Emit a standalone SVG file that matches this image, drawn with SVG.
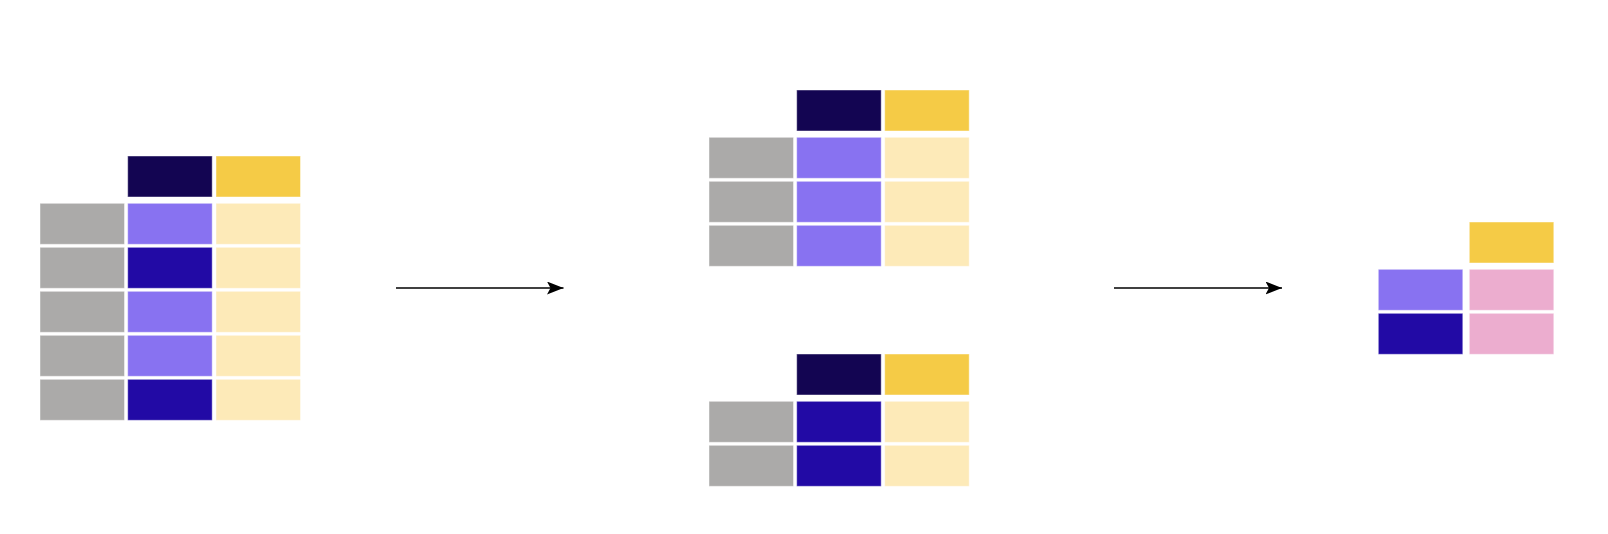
<svg xmlns="http://www.w3.org/2000/svg" width="1608" height="534" viewBox="0 0 1608 534">
<defs>
<style>
rect.c{stroke:#ffffff;stroke-opacity:0.45;stroke-width:1;width:84.5px;height:41px}
.g{fill:#ABAAA9}
.p{fill:#8872F1}
.d{fill:#220AA5}
.n{fill:#130552}
.y{fill:#F5CB46}
.ly{fill:#FDEAB8}
.pk{fill:#ECADCF}
.conn{stroke:#000;stroke-width:1.3;fill:none}
</style>
<marker id="ah" markerWidth="18" markerHeight="14" refX="16.5" refY="6.5" orient="auto" markerUnits="userSpaceOnUse">
<path d="M0,0 L16.5,6.5 L0,13 L3.5,6.5 Z" fill="#000"/>
</marker>
</defs>
<rect width="1608" height="534" fill="#ffffff"/>
<g id="table-input">
<rect class="c n" x="127.7" y="156" width="84.5" height="41"/>
<rect class="c y" x="216" y="156" width="84.5" height="41"/>
<rect class="c g" x="40" y="203.3" width="84.5" height="41"/>
<rect class="c p" x="127.7" y="203.3" width="84.5" height="41"/>
<rect class="c ly" x="216" y="203.3" width="84.5" height="41"/>
<rect class="c g" x="40" y="247.3" width="84.5" height="41"/>
<rect class="c d" x="127.7" y="247.3" width="84.5" height="41"/>
<rect class="c ly" x="216" y="247.3" width="84.5" height="41"/>
<rect class="c g" x="40" y="291.3" width="84.5" height="41"/>
<rect class="c p" x="127.7" y="291.3" width="84.5" height="41"/>
<rect class="c ly" x="216" y="291.3" width="84.5" height="41"/>
<rect class="c g" x="40" y="335.3" width="84.5" height="41"/>
<rect class="c p" x="127.7" y="335.3" width="84.5" height="41"/>
<rect class="c ly" x="216" y="335.3" width="84.5" height="41"/>
<rect class="c g" x="40" y="379.3" width="84.5" height="41"/>
<rect class="c d" x="127.7" y="379.3" width="84.5" height="41"/>
<rect class="c ly" x="216" y="379.3" width="84.5" height="41"/>
</g>
<g id="table-group-a">
<rect class="c n" x="796.7" y="90" width="84.5" height="41"/>
<rect class="c y" x="884.7" y="90" width="84.5" height="41"/>
<rect class="c g" x="709" y="137.3" width="84.5" height="41"/>
<rect class="c p" x="796.7" y="137.3" width="84.5" height="41"/>
<rect class="c ly" x="884.7" y="137.3" width="84.5" height="41"/>
<rect class="c g" x="709" y="181.3" width="84.5" height="41"/>
<rect class="c p" x="796.7" y="181.3" width="84.5" height="41"/>
<rect class="c ly" x="884.7" y="181.3" width="84.5" height="41"/>
<rect class="c g" x="709" y="225.3" width="84.5" height="41"/>
<rect class="c p" x="796.7" y="225.3" width="84.5" height="41"/>
<rect class="c ly" x="884.7" y="225.3" width="84.5" height="41"/>
</g>
<g id="table-group-b">
<rect class="c n" x="796.7" y="354" width="84.5" height="41"/>
<rect class="c y" x="884.7" y="354" width="84.5" height="41"/>
<rect class="c g" x="709" y="401.3" width="84.5" height="41"/>
<rect class="c d" x="796.7" y="401.3" width="84.5" height="41"/>
<rect class="c ly" x="884.7" y="401.3" width="84.5" height="41"/>
<rect class="c g" x="709" y="445.3" width="84.5" height="41"/>
<rect class="c d" x="796.7" y="445.3" width="84.5" height="41"/>
<rect class="c ly" x="884.7" y="445.3" width="84.5" height="41"/>
</g>
<g id="table-result">
<rect class="c y" x="1469.3" y="222" width="84.5" height="41"/>
<rect class="c p" x="1378.3" y="269.3" width="84.5" height="41"/>
<rect class="c pk" x="1469.3" y="269.3" width="84.5" height="41"/>
<rect class="c d" x="1378.3" y="313.3" width="84.5" height="41"/>
<rect class="c pk" x="1469.3" y="313.3" width="84.5" height="41"/>
</g>
<g id="connectors">
<line class="conn" x1="396" y1="288" x2="563.5" y2="288" marker-end="url(#ah)"/>
<line class="conn" x1="1114" y1="288" x2="1282" y2="288" marker-end="url(#ah)"/>
</g>
</svg>
